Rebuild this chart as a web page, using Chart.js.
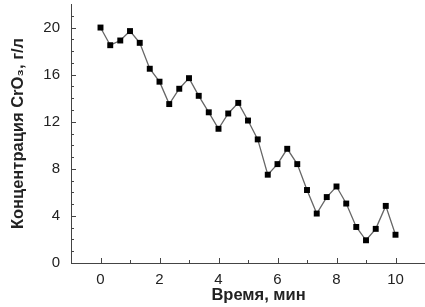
<!DOCTYPE html>
<html>
<head>
<meta charset="utf-8">
<script src="https://cdn.jsdelivr.net/npm/chart.js@4.4.1/dist/chart.umd.min.js"></script>
<style>
  html, body { margin: 0; padding: 0; background: #fff; }
  #wrap { width: 425px; height: 307px; position: relative; }
</style>
</head>
<body>
<div id="wrap"><canvas id="c" width="425" height="307"></canvas></div>
<script>
// Time, min (x) and CrO3 concentration, g/l (y)
const timeMin = [0, 0.33, 0.67, 1.0, 1.33, 1.67, 2.0, 2.33, 2.67, 3.0, 3.33, 3.67, 4.0, 4.33, 4.67, 5.0,
                 5.33, 5.67, 6.0, 6.33, 6.67, 7.0, 7.33, 7.67, 8.0, 8.33, 8.67, 9.0, 9.33, 9.67, 10.0];
const concentration = [20.0, 18.5, 18.9, 19.7, 18.7, 16.5, 15.4, 13.5, 14.8, 15.7, 14.2, 12.8, 11.4, 12.7, 13.6, 12.1,
                       10.5, 7.5, 8.4, 9.7, 8.4, 6.2, 4.2, 5.6, 6.5, 5.05, 3.06, 1.93, 2.9, 4.85, 2.4];
const xTickLabels = [0, 2, 4, 6, 8, 10];
const yTickLabels = [0, 4, 8, 12, 16, 20];
const xMinorTicks = [1, 3, 5, 7, 9];
const yMinorTicks = [1, 2, 3, 5, 6, 7, 9, 10, 11, 13, 14, 15, 17, 18, 19, 21];

const points = timeMin.map((t, i) => ({ x: t, y: concentration[i] }));

const inwardTicks = {
  id: 'inwardTicks',
  afterDraw(chart) {
    const ctx = chart.ctx;
    const xs = chart.scales.x, ys = chart.scales.y;
    const area = chart.chartArea;
    ctx.save();
    ctx.strokeStyle = '#444';
    ctx.lineWidth = 1;
    ctx.beginPath();
    const xl = (v, len) => { const p = Math.round(xs.getPixelForValue(v)) + 0.5; ctx.moveTo(p, area.bottom); ctx.lineTo(p, area.bottom - len); };
    const yl = (v, len) => { const p = Math.round(ys.getPixelForValue(v)) + 0.5; ctx.moveTo(area.left, p); ctx.lineTo(area.left + len, p); };
    xTickLabels.forEach(v => xl(v, 5));
    xMinorTicks.forEach(v => xl(v, 3));
    yTickLabels.forEach(v => yl(v, 5));
    yMinorTicks.forEach(v => yl(v, 3));
    ctx.stroke();
    ctx.restore();
  }
};

Chart.defaults.font.family = '"Liberation Sans", Arial, sans-serif';
Chart.defaults.color = '#222';

new Chart(document.getElementById('c'), {
  type: 'scatter',
  data: {
    datasets: [{
      data: points,
      showLine: true,
      borderColor: '#666',
      borderWidth: 1.3,
      pointStyle: 'rect',
      pointRadius: 4.2,
      pointBackgroundColor: '#000',
      pointBorderColor: '#000',
      pointBorderWidth: 0
    }]
  },
  options: {
    responsive: false,
    animation: false,
    layout: { autoPadding: false, padding: { top: 4, right: 0, left: 0, bottom: 0 } },
    plugins: { legend: { display: false }, tooltip: { enabled: false } },
    scales: {
      x: {
        type: 'linear',
        min: -1, max: 11,
        afterBuildTicks: s => { s.ticks = xTickLabels.map(v => ({ value: v })); },
        afterFit: s => { s.height = 44; s.paddingLeft = 0; s.paddingRight = 0; },
        grid: { display: true, drawOnChartArea: false, drawTicks: false },
        border: { display: true, color: '#444', width: 1 },
        ticks: { padding: 8, font: { size: 15 }, color: '#222', maxRotation: 0 },
        title: { display: true, text: '\u2002\u2002 Время, мин', font: { size: 16.5, weight: 'bold' }, color: '#222', padding: { top: 0, bottom: 2 } }
      },
      y: {
        type: 'linear',
        min: 0, max: 22,
        afterBuildTicks: s => { s.ticks = yTickLabels.map(v => ({ value: v })); },
        afterFit: s => { s.width = 71; s.paddingTop = 0; s.paddingBottom = 0; },
        grid: { display: true, drawOnChartArea: false, drawTicks: false },
        border: { display: true, color: '#444', width: 1 },
        ticks: { padding: 11, font: { size: 15, lineHeight: 0.1 }, color: '#222' },
        title: { display: true, text: 'Концентрация CrO₃, г/л', font: { size: 16.5, weight: 'bold' }, color: '#222', padding: { top: 9, bottom: 0 } }
      }
    }
  },
  plugins: [inwardTicks]
});
</script>
</body>
</html>
